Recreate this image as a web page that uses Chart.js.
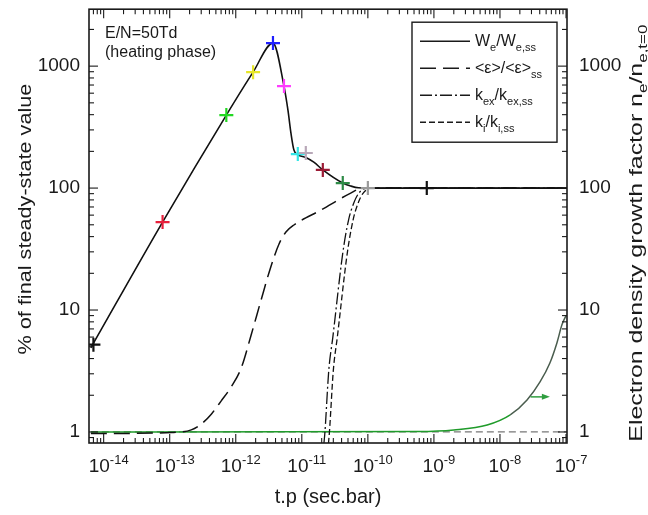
<!DOCTYPE html>
<html>
<head>
<meta charset="utf-8">
<script src="https://cdn.jsdelivr.net/npm/chart.js@4.4.1/dist/chart.umd.min.js"></script>
<style>
  html, body { margin: 0; padding: 0; background: #fff; }
  #wrap { width: 648px; height: 515px; }
</style>
</head>
<body>
<div id="wrap"><canvas id="heatChart" width="648" height="515"></canvas></div>
<script>
const FONT = '"Liberation Sans", Arial, Helvetica, sans-serif';

// axes (log-log), t.p in sec.bar
const xTickValues = [1e-14, 1e-13, 1e-12, 1e-11, 1e-10, 1e-9, 1e-8, 1e-7];
const xTickExps = ['-14', '-13', '-12', '-11', '-10', '-9', '-8', '-7'];
const yTickValues = [1, 10, 100, 1000];
const yTickLabels = ['1', '10', '100', '1000'];
const xMin = 6.37e-15, xMax = 1.035e-7;
const yMin = 0.812, yMax = 2930;

// We/We,ss
const wTime  = [6.4e-15, 7.8e-14, 7.2e-13, 1.83e-12, 3.66e-12, 5.37e-12, 6.17e-12, 6.85e-12, 7.6e-12, 8.7e-12, 1.15e-11, 1.52e-11, 2.08e-11, 4.17e-11, 5.5e-11, 7.2e-11, 1e-10, 1.035e-7];
const wValue = [4.9, 52.6, 397, 893, 1545, 686, 435, 282, 205, 188, 178, 163, 141, 110, 104, 100.5, 100, 100];

// crosses on the We curve
const markTime   = [7e-15, 7.8e-14, 7.2e-13, 1.83e-12, 3.66e-12, 5.37e-12, 8.7e-12, 1.15e-11, 2.08e-11, 4.17e-11, 1.0e-10, 7.8e-10];
const markValue  = [5.2, 52.6, 397, 893, 1545, 686, 190, 194, 141, 110, 100, 100];
const markColors = ['#111111', '#e8203c', '#22d822', '#e6e62a', '#1f1fff', '#ff3cff', '#33e6e6', '#b8a8b8', '#9b1b35', '#2d8a46', '#9a9a9a', '#111111'];

// <eps>/<eps>ss
const epsTime  = [6.4e-15, 1.07e-13, 2.12e-13, 3.0e-13, 4.26e-13, 6.03e-13, 8.53e-13, 1.21e-12, 1.71e-12, 2.42e-12, 3.42e-12, 4.52e-12, 5.75e-12, 7.6e-12, 1.95e-11, 5.5e-11, 8.3e-11, 1.035e-7];
const epsValue = [0.97, 0.99, 1.04, 1.16, 1.40, 1.80, 2.34, 3.35, 6.24, 12.1, 22.9, 34.8, 43.6, 49.8, 66, 91, 100, 100];

// kex/kex,ss and ki/ki,ss
const kexTime  = [2.16e-11, 2.24e-11, 2.56e-11, 2.95e-11, 4.17e-11, 5.1e-11, 6.1e-11, 7.3e-11, 1.0e-10, 1.035e-7];
const kiTime   = [2.53e-11, 2.62e-11, 3.0e-11, 3.45e-11, 4.88e-11, 5.97e-11, 7.1e-11, 8.5e-11, 1.12e-10, 1.035e-7];
const kValue   = [0.8, 1, 3.2, 6, 29.3, 54.7, 75, 91, 100, 100];

// electron density growth factor (right axis)
const growTime  = [6.4e-15, 6e-10, 2e-9, 6.4e-9, 1.43e-8, 2.57e-8, 4.04e-8, 5.7e-8, 7.3e-8, 8.7e-8, 1e-7];
const growValue = [1.0, 1.01, 1.04, 1.14, 1.38, 1.83, 2.57, 3.68, 5.4, 7.6, 9.0];
const baseTime  = [6.4e-15, 1.035e-7];
const baseValue = [1, 1];

// arrow pointing to the right axis
const arrowTime  = [2.9e-8, 5.7e-8];
const arrowLevel = 1.94;

const legendItems = [
  { runs: [['W', 0], ['e', -1], ['/W', 0], ['e,ss', -1]], dash: [] },
  { runs: [['<\u03b5>/<\u03b5>', 0], ['ss', -1]], dash: [16, 7] },
  { runs: [['k', 0], ['ex', -1], ['/k', 0], ['ex,ss', -1]], dash: [12, 3, 2, 3] },
  { runs: [['k', 0], ['i', -1], ['/k', 0], ['i,ss', -1]], dash: [6, 3] }
];

function pairs(xs, ys) {
  return xs.map((x, i) => ({ x: x, y: ys[i] }));
}

// text with sub (-1) / superscript (1) parts
function runsWidth(ctx, runs, size) {
  let w = 0;
  runs.forEach(r => {
    ctx.font = (r[1] ? Math.round(size * 0.68) : size) + 'px ' + FONT;
    w += ctx.measureText(r[0]).width;
  });
  return w;
}
function drawRuns(ctx, runs, x, y, size, center) {
  let cx = center ? x - runsWidth(ctx, runs, size) / 2 : x;
  ctx.textAlign = 'left';
  ctx.textBaseline = 'alphabetic';
  runs.forEach(r => {
    ctx.font = (r[1] ? Math.round(size * 0.68) : size) + 'px ' + FONT;
    const dy = r[1] === -1 ? size * 0.28 : (r[1] === 1 ? -size * 0.42 : 0);
    ctx.fillText(r[0], cx, y + dy);
    cx += ctx.measureText(r[0]).width;
  });
}
function seg(ctx, x1, y1, x2, y2) {
  ctx.beginPath(); ctx.moveTo(x1, y1); ctx.lineTo(x2, y2); ctx.stroke();
}

const overlay = {
  id: 'overlay',
  afterDatasetsDraw(chart) {
    const { ctx, chartArea: a, scales } = chart;
    const sx = scales.x, sy = scales.y;
    ctx.save();

    // green arrow
    const ay = scales.y2.getPixelForValue(arrowLevel);
    const ax1 = sx.getPixelForValue(arrowTime[0]), ax2 = sx.getPixelForValue(arrowTime[1]);
    ctx.strokeStyle = '#2f9e3f'; ctx.fillStyle = '#2f9e3f'; ctx.lineWidth = 1.5;
    seg(ctx, ax1, ay, ax2 - 5, ay);
    ctx.beginPath(); ctx.moveTo(ax2, ay); ctx.lineTo(ax2 - 8, ay - 3); ctx.lineTo(ax2 - 8, ay + 3); ctx.closePath(); ctx.fill();

    // frame + inward ticks
    ctx.strokeStyle = '#1a1a1a'; ctx.lineWidth = 1.6;
    ctx.strokeRect(a.left, a.top, a.right - a.left, a.bottom - a.top);
    ctx.lineWidth = 1.1;
    for (let d = -15; d <= -7; d++) {
      for (let m = 1; m <= 9; m++) {
        const v = m * Math.pow(10, d);
        if (v < xMin || v > xMax) continue;
        const px = sx.getPixelForValue(v);
        const len = m === 1 ? 9 : 5;
        seg(ctx, px, a.bottom, px, a.bottom - len);
        seg(ctx, px, a.top, px, a.top + len);
      }
    }
    for (let d = -1; d <= 3; d++) {
      for (let m = 1; m <= 9; m++) {
        const v = m * Math.pow(10, d);
        if (v < yMin || v > yMax) continue;
        const py = sy.getPixelForValue(v);
        const len = m === 1 ? 9 : 5;
        seg(ctx, a.left, py, a.left + len, py);
        seg(ctx, a.right, py, a.right - len, py);
      }
    }

    ctx.fillStyle = '#1a1a1a';
    // x tick labels 10^n
    xTickValues.forEach((v, i) => {
      drawRuns(ctx, [['10', 0], [xTickExps[i], 1]], sx.getPixelForValue(v) + 5, a.bottom + 29, 19, true);
    });

    // axis titles
    ctx.save();
    ctx.translate(24, (a.top + a.bottom) / 2 - 7);
    ctx.rotate(-Math.PI / 2);
    ctx.scale(1.14, 1);
    drawRuns(ctx, [['% of final steady-state value', 0]], 0, 7, 19, true);
    ctx.restore();

    ctx.save();
    ctx.translate(635, (a.top + a.bottom) / 2 + 7);
    ctx.rotate(-Math.PI / 2);
    ctx.scale(1.31, 1);
    drawRuns(ctx, [['Electron density growth factor n', 0], ['e', -1], ['/n', 0], ['e,t=0', -1]], 0, 7, 19, true);
    ctx.restore();

    drawRuns(ctx, [['t.p (sec.bar)', 0]], (a.left + a.right) / 2, a.bottom + 60, 20, true);

    // annotation
    drawRuns(ctx, [['E/N=50Td', 0]], a.left + 16, a.top + 29, 16, false);
    drawRuns(ctx, [['(heating phase)', 0]], a.left + 16, a.top + 48, 16, false);

    // legend
    const bx = a.left + 323, by = a.top + 13, bw = 145, bh = 120;
    ctx.fillStyle = '#ffffff';
    ctx.fillRect(bx, by, bw, bh);
    ctx.strokeStyle = '#1a1a1a'; ctx.lineWidth = 1.4;
    ctx.strokeRect(bx, by, bw, bh);
    ctx.fillStyle = '#1a1a1a';
    legendItems.forEach((it, i) => {
      const ly = by + 19 + i * 27;
      ctx.setLineDash(it.dash);
      ctx.lineWidth = 1.6;
      seg(ctx, bx + 8, ly, bx + 58, ly);
      ctx.setLineDash([]);
      drawRuns(ctx, it.runs, bx + 63, ly + 5, 16, false);
    });

    ctx.restore();
  }
};

const lineBase = { pointRadius: 0, fill: false, cubicInterpolationMode: 'monotone', borderColor: '#111111', borderWidth: 1.6 };

function fitY(w) {
  return s => { s.width = w; s.paddingTop = 0; s.paddingBottom = 0; };
}

new Chart(document.getElementById('heatChart'), {
  type: 'line',
  data: {
    datasets: [
      {
        label: 'markers', data: pairs(markTime, markValue), showLine: false,
        pointStyle: 'cross', pointRadius: 7, pointBorderWidth: 2.2,
        pointBorderColor: markColors, pointBackgroundColor: markColors
      },
      Object.assign({ label: 'We/We,ss', data: pairs(wTime, wValue) }, lineBase),
      Object.assign({ label: '<e>/<e>ss', data: pairs(epsTime, epsValue) }, lineBase, { borderDash: [16, 7], borderWidth: 1.5 }),
      Object.assign({ label: 'kex/kex,ss', data: pairs(kexTime, kValue) }, lineBase, { borderDash: [12, 3, 2, 3], borderWidth: 1.3 }),
      Object.assign({ label: 'ki/ki,ss', data: pairs(kiTime, kValue) }, lineBase, { borderDash: [6, 3], borderWidth: 1.3 }),
      Object.assign({ label: 'growth', data: pairs(growTime, growValue), yAxisID: 'y2' }, lineBase, {
        borderColor: '#1f9b2a', borderWidth: 1.5,
        segment: { borderColor: c => (c.p0.parsed.x >= 1.4e-8 ? '#4a5d4e' : '#1f9b2a') }
      }),
      Object.assign({ label: 'growth base', data: pairs(baseTime, baseValue), yAxisID: 'y2' }, lineBase, { borderDash: [7, 4], borderColor: '#777777', borderWidth: 1.2 })
    ]
  },
  options: {
    responsive: false,
    animation: false,
    events: [],
    layout: { padding: { top: 9, left: 0, right: 0, bottom: 0 } },
    plugins: { legend: { display: false }, tooltip: { enabled: false } },
    scales: {
      x: {
        type: 'logarithmic', min: xMin, max: xMax,
        grid: { display: false, drawTicks: false },
        border: { display: false },
        ticks: { display: false },
        afterFit: s => { s.height = 72; s.paddingLeft = 0; s.paddingRight = 0; }
      },
      y: {
        type: 'logarithmic', position: 'left', min: yMin, max: yMax,
        grid: { display: false, drawTicks: false },
        border: { display: false },
        afterBuildTicks: s => { s.ticks = yTickValues.map(v => ({ value: v })); },
        ticks: { padding: 9, color: '#1a1a1a', font: { family: FONT, size: 19 }, callback: (v, i) => yTickLabels[i] },
        afterFit: fitY(89)
      },
      y2: {
        type: 'logarithmic', position: 'right', min: yMin, max: yMax,
        grid: { display: false, drawTicks: false },
        border: { display: false },
        afterBuildTicks: s => { s.ticks = yTickValues.map(v => ({ value: v })); },
        ticks: { padding: 12, color: '#1a1a1a', font: { family: FONT, size: 19 }, callback: (v, i) => yTickLabels[i] },
        afterFit: fitY(81)
      }
    }
  },
  plugins: [overlay]
});
</script>
</body>
</html>
